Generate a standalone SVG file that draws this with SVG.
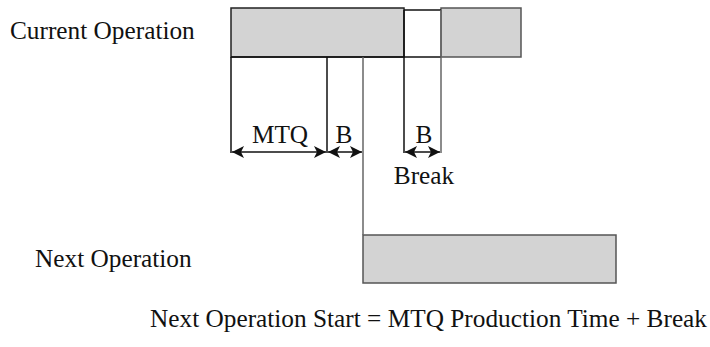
<svg xmlns="http://www.w3.org/2000/svg" width="710" height="347" viewBox="0 0 710 347">
<style>
text{font-family:"Liberation Serif","Times New Roman",serif;fill:#111;}
.lbl{font-size:25.3px;}
.bar{fill:#d3d3d3;stroke:#222;stroke-width:1.5;}
.bar2{fill:#d3d3d3;stroke:#555;stroke-width:1.5;}
.ln{stroke:#111;stroke-width:1.5;fill:none;}
.lg{stroke:#666;stroke-width:1.5;fill:none;}
.dim{stroke:#111;stroke-width:1.5;fill:none;marker-start:url(#ah);marker-end:url(#ah);}
</style>
<defs>
<marker id="ah" viewBox="0 0 12 12" refX="12" refY="6" markerWidth="12" markerHeight="12" markerUnits="userSpaceOnUse" orient="auto-start-reverse">
<path d="M0,0 L12,6 L0,12 L3,6 Z" fill="#111"/>
</marker>
</defs>
<g id="current-operation">
<rect class="bar" x="231" y="8" width="173" height="49"/>
<rect class="bar2" x="441" y="8" width="80" height="49"/>
<line class="ln" x1="404" y1="10" x2="441" y2="10"/>
<text class="lbl" x="10" y="39">Current Operation</text>
</g>
<g id="next-operation">
<rect class="bar2" x="363" y="235" width="253" height="48"/>
<text class="lbl" x="35" y="267">Next Operation</text>
</g>
<g id="connectors">
<line class="ln" x1="231" y1="57" x2="441" y2="57"/>
<line class="ln" x1="231" y1="57" x2="231" y2="153"/>
<line class="ln" x1="327" y1="57" x2="327" y2="153"/>
<line class="lg" x1="363" y1="57" x2="363" y2="235"/>
<line class="ln" x1="404" y1="10" x2="404" y2="153"/>
<line class="lg" x1="441" y1="10" x2="441" y2="153"/>
<line class="dim" x1="232" y1="152" x2="326" y2="152"/>
<line class="dim" x1="328" y1="152" x2="362" y2="152"/>
<line class="dim" x1="405" y1="152" x2="440" y2="152"/>
</g>
<g id="labels">
<text class="lbl" x="280" y="143" text-anchor="middle">MTQ</text>
<text class="lbl" x="344" y="143" text-anchor="middle">B</text>
<text class="lbl" x="424" y="143" text-anchor="middle">B</text>
<text class="lbl" x="424" y="184" text-anchor="middle">Break</text>
<text class="lbl" x="150" y="327" textLength="557" lengthAdjust="spacingAndGlyphs">Next Operation Start = MTQ Production Time + Break</text>
</g>
</svg>
